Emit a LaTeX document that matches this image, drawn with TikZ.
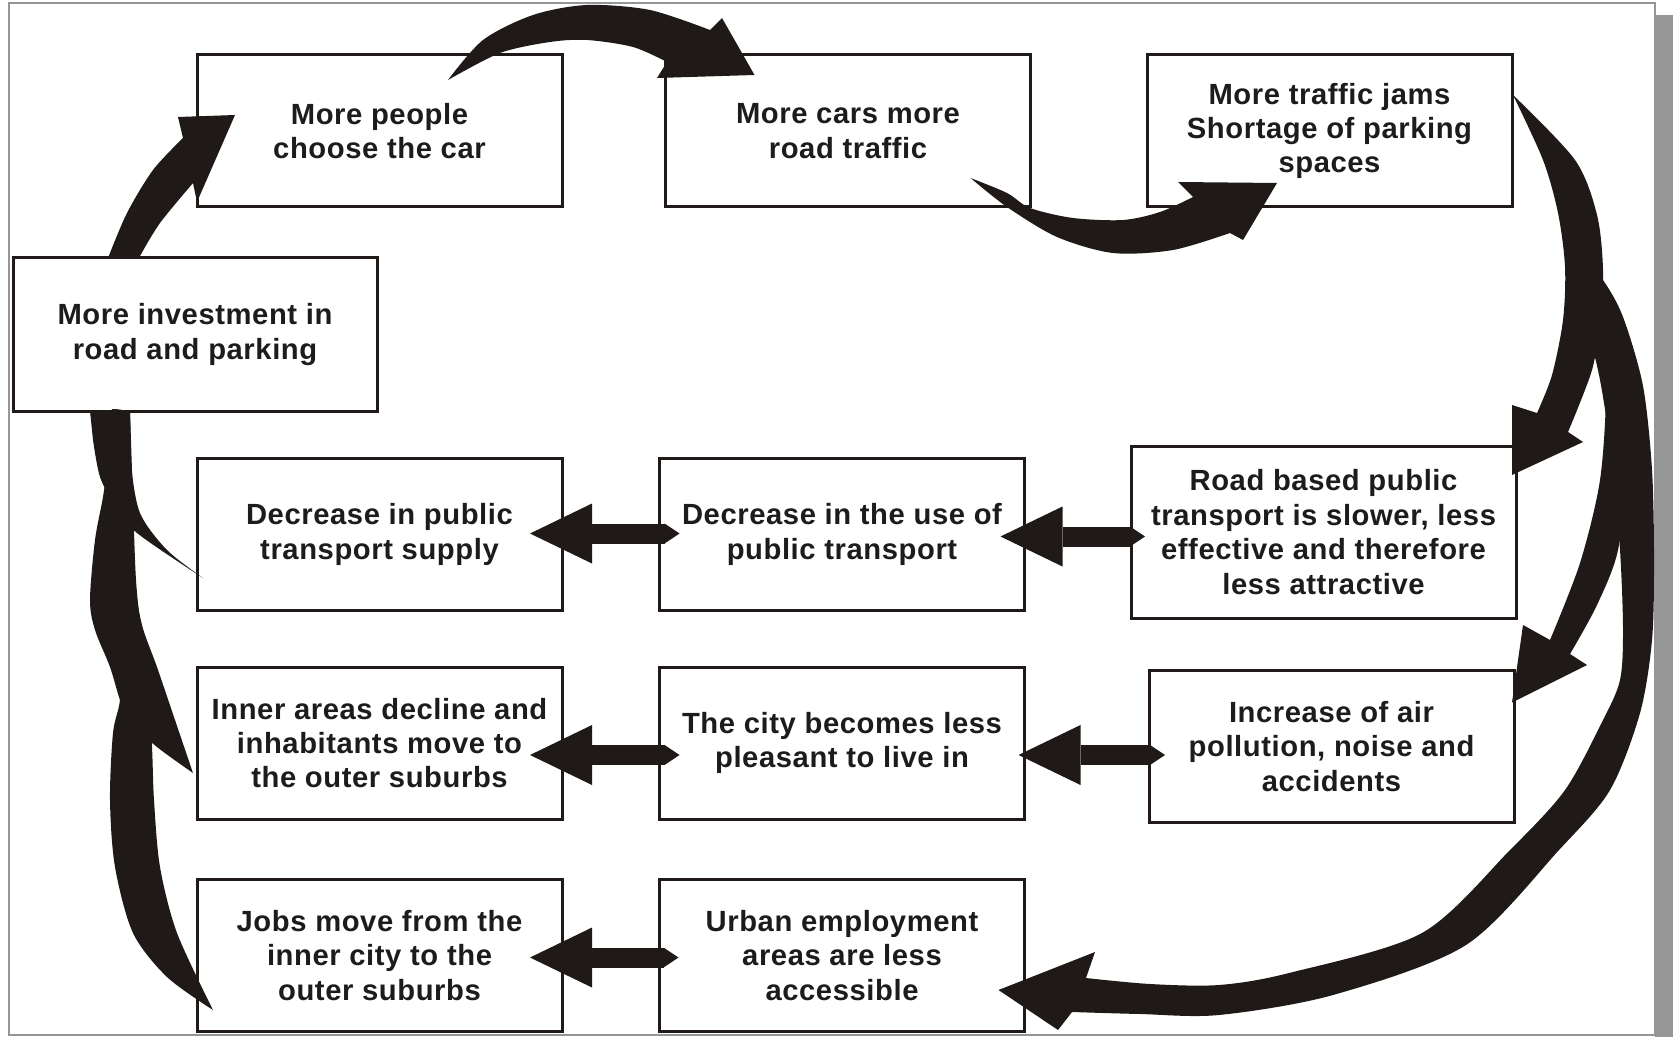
\documentclass[tikz,border=0pt]{standalone}
\usepackage{fontspec}
\setmainfont{Liberation Sans}[LetterSpace=2]
\usepackage{tikz}
\usetikzlibrary{arrows.meta, calc}
\definecolor{CycleInk}{RGB}{31,26,23}
\definecolor{CycleText}{RGB}{30,27,27}
\definecolor{CycleFrame}{RGB}{150,150,150}

\tikzset{
  cause/.style={draw=CycleInk, line width=1.5pt, fill=white, inner sep=0pt, outer sep=0pt,
    minimum width=182.5pt, minimum height=76pt, align=center, text=CycleText,
    font=\fontsize{14.6}{17.2}\selectfont\bfseries},
  link/.style={draw=CycleInk, line width=10pt,
    {Triangle[length=7.5pt,width=10pt,line width=0pt]}-{Triangle[length=31pt,width=30pt,line width=0pt]}},
  swoosh/.style={fill=CycleInk}
}

\begin{document}
\begin{tikzpicture}[x=0.5pt,y=-0.5pt]
  \path[use as bounding box] (0,0) rectangle (1673,1037);
  \fill[CycleFrame] (1655,15) rectangle (1673,1037);
  \draw[CycleFrame, line width=1pt] (9,3) rectangle (1655,1035);

  \node[cause] (car) at (379.5,131) {More people\\choose the car};
  \node[cause] (traffic) at (848,131) {More cars more\\road traffic};
  \node[cause] (jams) at (1329.5,131) {More traffic jams\\Shortage of parking\\spaces};
  \node[cause, minimum width=182pt, minimum height=76.5pt] (invest) at (195,334.5) {More investment in\\road and parking};
  \node[cause] (supply) at (379.5,534.5) {Decrease in public\\transport supply};
  \node[cause] (use) at (842,534.5) {Decrease in the use of\\public transport};
  \node[cause, minimum width=192.5pt, minimum height=86pt] (slower) at (1323.5,532) {Road based public\\transport is slower, less\\effective and therefore\\less attractive};
  \node[cause] (inner) at (379.5,743) {Inner areas decline and\\inhabitants move to\\the outer suburbs};
  \node[cause] (city) at (842,743) {The city becomes less\\pleasant to live in};
  \node[cause] (pollution) at (1331.5,746.5) {Increase of air\\pollution, noise and\\accidents};
  \node[cause] (jobs) at (379.5,955.5) {Jobs move from the\\inner city to the\\outer suburbs};
  \node[cause] (urban) at (842,955.5) {Urban employment\\areas are less\\accessible};

  \coordinate (a-tail) at ($(car.north)+(68.5,25)$);
  \coordinate (a-tip) at ($(traffic.north west)+(89,20)$);
  \coordinate (b-tail) at ($(traffic.south east)+(-60,-29)$);
  \coordinate (b-tip) at ($(jams.south west)+(130,-24)$);
  \coordinate (c-tail) at ($(jams.north east)+(1,40)$);
  \coordinate (c-tip) at ($(slower.north east)+(-4,29)$);
  \coordinate (d-tip) at ($(pollution.north east)+(-2,32)$);
  \coordinate (e-tip) at ($(urban.east)+(-26,34.5)$);
  \coordinate (f-tail) at ($(invest.north west)+(95,0)$);
  \coordinate (f-tip) at ($(car.north west)+(38,60)$);
  \coordinate (g-tail) at ($(supply.west)+(6,43.5)$);
  \coordinate (k-tail) at ($(inner.west)+(-4,30)$);
  \coordinate (m-tail) at ($(jobs.west)+(16,54.5)$);
  \coordinate (sink-l) at ($(invest.south west)+(77,0)$);
  \coordinate (sink-r) at ($(invest.south west)+(117,0)$);

  \fill[swoosh] plot[smooth] coordinates {(a-tail) (483,40) (533,15) (587,5) (650,10) (710,30)}
    -- (722,18) -- (a-tip) -- (657,78)
    -- plot[smooth] coordinates {(667,62) (633,47) (587,40) (550,42) (500,53) (a-tail)} -- cycle;
  \fill[swoosh] plot[smooth] coordinates {(b-tail) (1007,207) (1057,237) (1113,253) (1173,250) (1230,233)}
    -- (1243,240) -- (b-tip) -- (1178,182)
    -- plot[smooth] coordinates {(1193,197) (1160,212) (1123,220) (1073,218) (1030,208) (1007,193) (b-tail)} -- cycle;
  \fill[swoosh] plot[smooth] coordinates {(c-tail) (1575,160) (1597,215) (1603,270) (1600,320) (1592,370) (1568,432)}
    -- (1583,442) -- (c-tip) -- (1512,405)
    -- plot[smooth] coordinates {(1537,413) (1552,375) (1563,320) (1565,267) (1558,213) (1543,160) (c-tail)} -- cycle;
  \fill[swoosh] plot[smooth] coordinates {(1580,255) (1603,280) (1623,317) (1643,386) (1652,470) (1654,560) (1652,640) (1640,713) (1610,790) (1559,850) (1466,945) (1333,995) (1219,1015) (1140,1014) (1072,1012)}
    -- (1058,1030) -- (e-tip) -- (1095,952)
    -- plot[smooth] coordinates {(1086,978) (1150,984) (1219,985) (1289,973) (1422,933) (1510,850) (1565,790) (1603,720) (1620,680) (1623,630) (1620,550) (1612,460) (1600,380) (1585,320) (1570,280)} -- cycle;
  \fill[swoosh] plot[smooth] coordinates {(1600,330) (1606,390) (1600,480) (1580,563) (1550,640)}
    -- (1523,625) -- (d-tip) -- (1587,665)
    -- plot[smooth] coordinates {(1570,654) (1597,605) (1618,550) (1625,470) (1618,390) (1600,330)} -- cycle;
  \fill[swoosh] plot[smooth] coordinates {(f-tail) (127,213) (153,170) (183,138)}
    -- (178,117) -- (f-tip) -- (197,202)
    -- plot[smooth] coordinates {(193,183) (160,223) (140,256)} -- cycle;
  \fill[swoosh] plot[smooth] coordinates {(g-tail) (167,550) (140,513) (131,463) (sink-r)}
    -- (sink-l)
    -- plot[smooth] coordinates {(93,440) (100,477) (115,505) (137,533) (g-tail)} -- cycle;
  \fill[swoosh] plot[smooth] coordinates {(k-tail) (175,720) (157,667) (142,625) (135,580) (132,500) (sink-r)}
    -- (112,409)
    -- plot[smooth] coordinates {(108,460) (103,497) (95,540) (90,600) (95,630) (110,667) (120,700) (130,722) (157,747) (k-tail)} -- cycle;
  \fill[swoosh] plot[smooth] coordinates {(m-tail) (177,933) (160,867) (154,800) (152,747) (148,690) (142,640) (136,580) (133,500) (sink-r)}
    -- (115,409)
    -- plot[smooth] coordinates {(115,480) (116,540) (120,600) (122,650) (120,700) (113,733) (110,800) (115,867) (133,933) (167,977) (m-tail)} -- cycle;

  \draw[link] ($(use.west)+(20,-1)$) -- ($(supply.east)+(-32,-1)$);
  \draw[link] ($(slower.west |- use.east)+(14,2)$) -- ($(use.east)+(-24,2)$);
  \draw[link] ($(city.west)+(20,12)$) -- ($(inner.east)+(-32,12)$);
  \draw[link] ($(pollution.west |- city.east)+(16,12)$) -- ($(city.east)+(-6,12)$);
  \draw[link] ($(urban.west)+(19,2)$) -- ($(jobs.east)+(-32,2)$);
\end{tikzpicture}
\end{document}
